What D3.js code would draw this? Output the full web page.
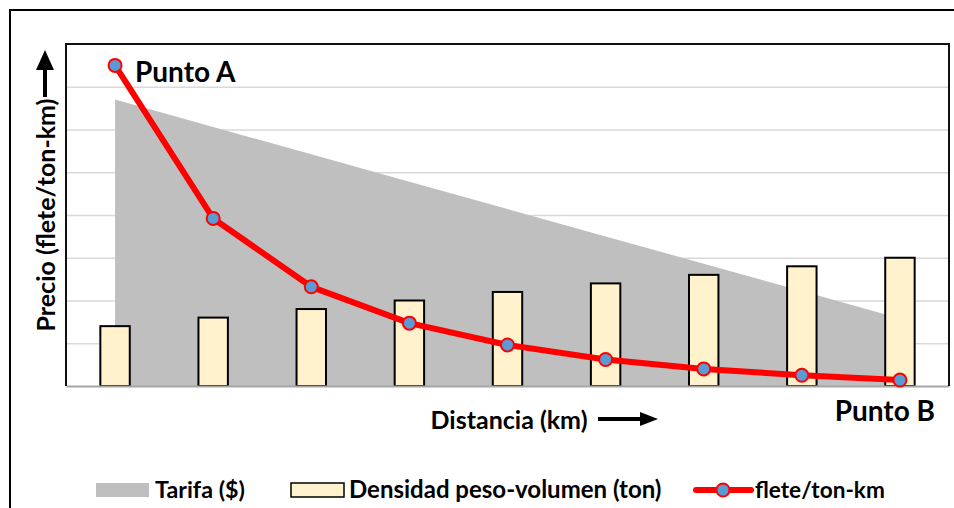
<!DOCTYPE html>
<html>
<head>
<meta charset="utf-8">
<script src="https://cdn.jsdelivr.net/npm/d3@7"></script>
<style>
  html, body { margin: 0; padding: 0; background: #fff; }
  svg { display: block; }
  text { font-family: Lato, "Open Sans", sans-serif; font-weight: bold; fill: #000; }
</style>
</head>
<body>
<svg id="chart" width="954" height="508"></svg>
<script>
// Tramos del recorrido entre Punto A y Punto B
const tramos = ["1", "2", "3", "4", "5", "6", "7", "8", "9"];
// Tarifa ($): decrece linealmente con la distancia
const tarifa = [6.7, 6.06, 5.42, 4.78, 4.14, 3.5, 2.86, 2.22, 1.58];
// Densidad peso-volumen (ton)
const densidad = [1.4, 1.6, 1.8, 2.0, 2.2, 2.4, 2.6, 2.8, 3.0];
// flete/ton-km
const flete = [7.5, 3.92, 2.32, 1.47, 0.96, 0.62, 0.40, 0.25, 0.14];
// Líneas de cuadrícula del eje de precio
const yTicks = [0, 1, 2, 3, 4, 5, 6, 7, 8];

const svg = d3.select("#chart");
const plot = { left: 66, right: 949, top: 44, bottom: 386 };

const x = d3.scaleBand().domain(tramos).range([plot.left, plot.right]).padding(0);
const y = d3.scaleLinear().domain([0, 8]).range([plot.bottom, plot.top]);
const cx = d => x(d) + x.bandwidth() / 2;

// Marco exterior del gráfico
svg.append("path")
  .attr("d", "M10,520 L10,10 L960,10")
  .attr("fill", "none").attr("stroke", "#000").attr("stroke-width", 2);

// Cuadrícula horizontal
svg.append("g")
  .attr("transform", `translate(${plot.left},0)`)
  .call(d3.axisLeft(y).tickValues(yTicks.slice(1, -1)).tickSize(-(plot.right - plot.left)).tickFormat(""))
  .call(g => g.select(".domain").remove())
  .call(g => g.selectAll(".tick line").attr("stroke", "#D9D9D9").attr("stroke-width", 1.5));

// Área: Tarifa ($)
const area = d3.area()
  .x((d, i) => cx(tramos[i]))
  .y0(y(0))
  .y1(d => y(d));
svg.append("path")
  .datum(tarifa)
  .attr("d", area)
  .attr("fill", "#BFBFBF");

// Barras: Densidad peso-volumen (ton)
const barW = x.bandwidth() * 0.3;
svg.append("g").selectAll("rect")
  .data(densidad)
  .join("rect")
  .attr("x", (d, i) => cx(tramos[i]) - barW / 2)
  .attr("y", d => y(d))
  .attr("width", barW)
  .attr("height", d => y(0) - y(d))
  .attr("fill", "#FFF2CC")
  .attr("stroke", "#000")
  .attr("stroke-width", 2);

// Ejes / borde del área de trazado
svg.append("g")
  .attr("transform", `translate(0,${plot.bottom})`)
  .call(d3.axisBottom(x).tickSize(0).tickFormat(""))
  .call(g => g.select(".domain").attr("stroke", "#A6A6A6").attr("stroke-width", 2));
svg.append("path")
  .attr("d", `M${plot.left},${plot.bottom} L${plot.left},${plot.top} L${plot.right},${plot.top} L${plot.right},${plot.bottom}`)
  .attr("fill", "none").attr("stroke", "#111").attr("stroke-width", 2);

// Línea: flete/ton-km
const line = d3.line()
  .x((d, i) => cx(tramos[i]))
  .y(d => y(d));
svg.append("path")
  .datum(flete)
  .attr("d", line)
  .attr("fill", "none")
  .attr("stroke", "#FF0000")
  .attr("stroke-width", 6)
  .attr("stroke-linejoin", "round");
svg.append("g").selectAll("circle")
  .data(flete)
  .join("circle")
  .attr("cx", (d, i) => cx(tramos[i]))
  .attr("cy", d => y(d))
  .attr("r", 6.5)
  .attr("fill", "#5B9BD5")
  .attr("stroke", "#FF0000")
  .attr("stroke-width", 2);

// Rótulos de los extremos
svg.append("text").attr("x", 135).attr("y", 82).attr("font-size", 28).text("Punto A");
svg.append("text").attr("x", 935).attr("y", 421).attr("text-anchor", "end").attr("font-size", 28).text("Punto B");

// Título del eje X con flecha horizontal
svg.append("text").attr("x", 509).attr("y", 429).attr("text-anchor", "middle").attr("font-size", 25).text("Distancia (km)");
svg.append("path")
  .attr("d", "M598,417 L640,417 L640,412 L658,419 L640,426 L640,421 L598,421 Z")
  .attr("fill", "#000");

// Título del eje Y con flecha vertical
svg.append("text")
  .attr("transform", "translate(55,215) rotate(-90)")
  .attr("text-anchor", "middle")
  .attr("font-size", 25)
  .text("Precio (flete/ton-km)");
svg.append("path")
  .attr("d", "M43,97 L43,70 L36,70 L45,50 L54,70 L47,70 L47,97 Z")
  .attr("fill", "#000");

// Leyenda
const leg = svg.append("g");
leg.append("rect").attr("x", 96).attr("y", 483).attr("width", 53).attr("height", 14).attr("fill", "#BFBFBF");
leg.append("text").attr("x", 155).attr("y", 498).attr("font-size", 23.3).text("Tarifa ($)");
leg.append("rect").attr("x", 291).attr("y", 483).attr("width", 53).attr("height", 14)
  .attr("fill", "#FFF2CC").attr("stroke", "#000").attr("stroke-width", 1.5);
leg.append("text").attr("x", 349).attr("y", 498).attr("font-size", 24).text("Densidad peso-volumen (ton)");
leg.append("line").attr("x1", 696).attr("y1", 490).attr("x2", 751).attr("y2", 490)
  .attr("stroke", "#FF0000").attr("stroke-width", 6).attr("stroke-linecap", "round");
leg.append("circle").attr("cx", 723).attr("cy", 490).attr("r", 6.5)
  .attr("fill", "#5B9BD5").attr("stroke", "#FF0000").attr("stroke-width", 2);
leg.append("text").attr("x", 755).attr("y", 498).attr("font-size", 22.6).text("flete/ton-km");
</script>
</body>
</html>
